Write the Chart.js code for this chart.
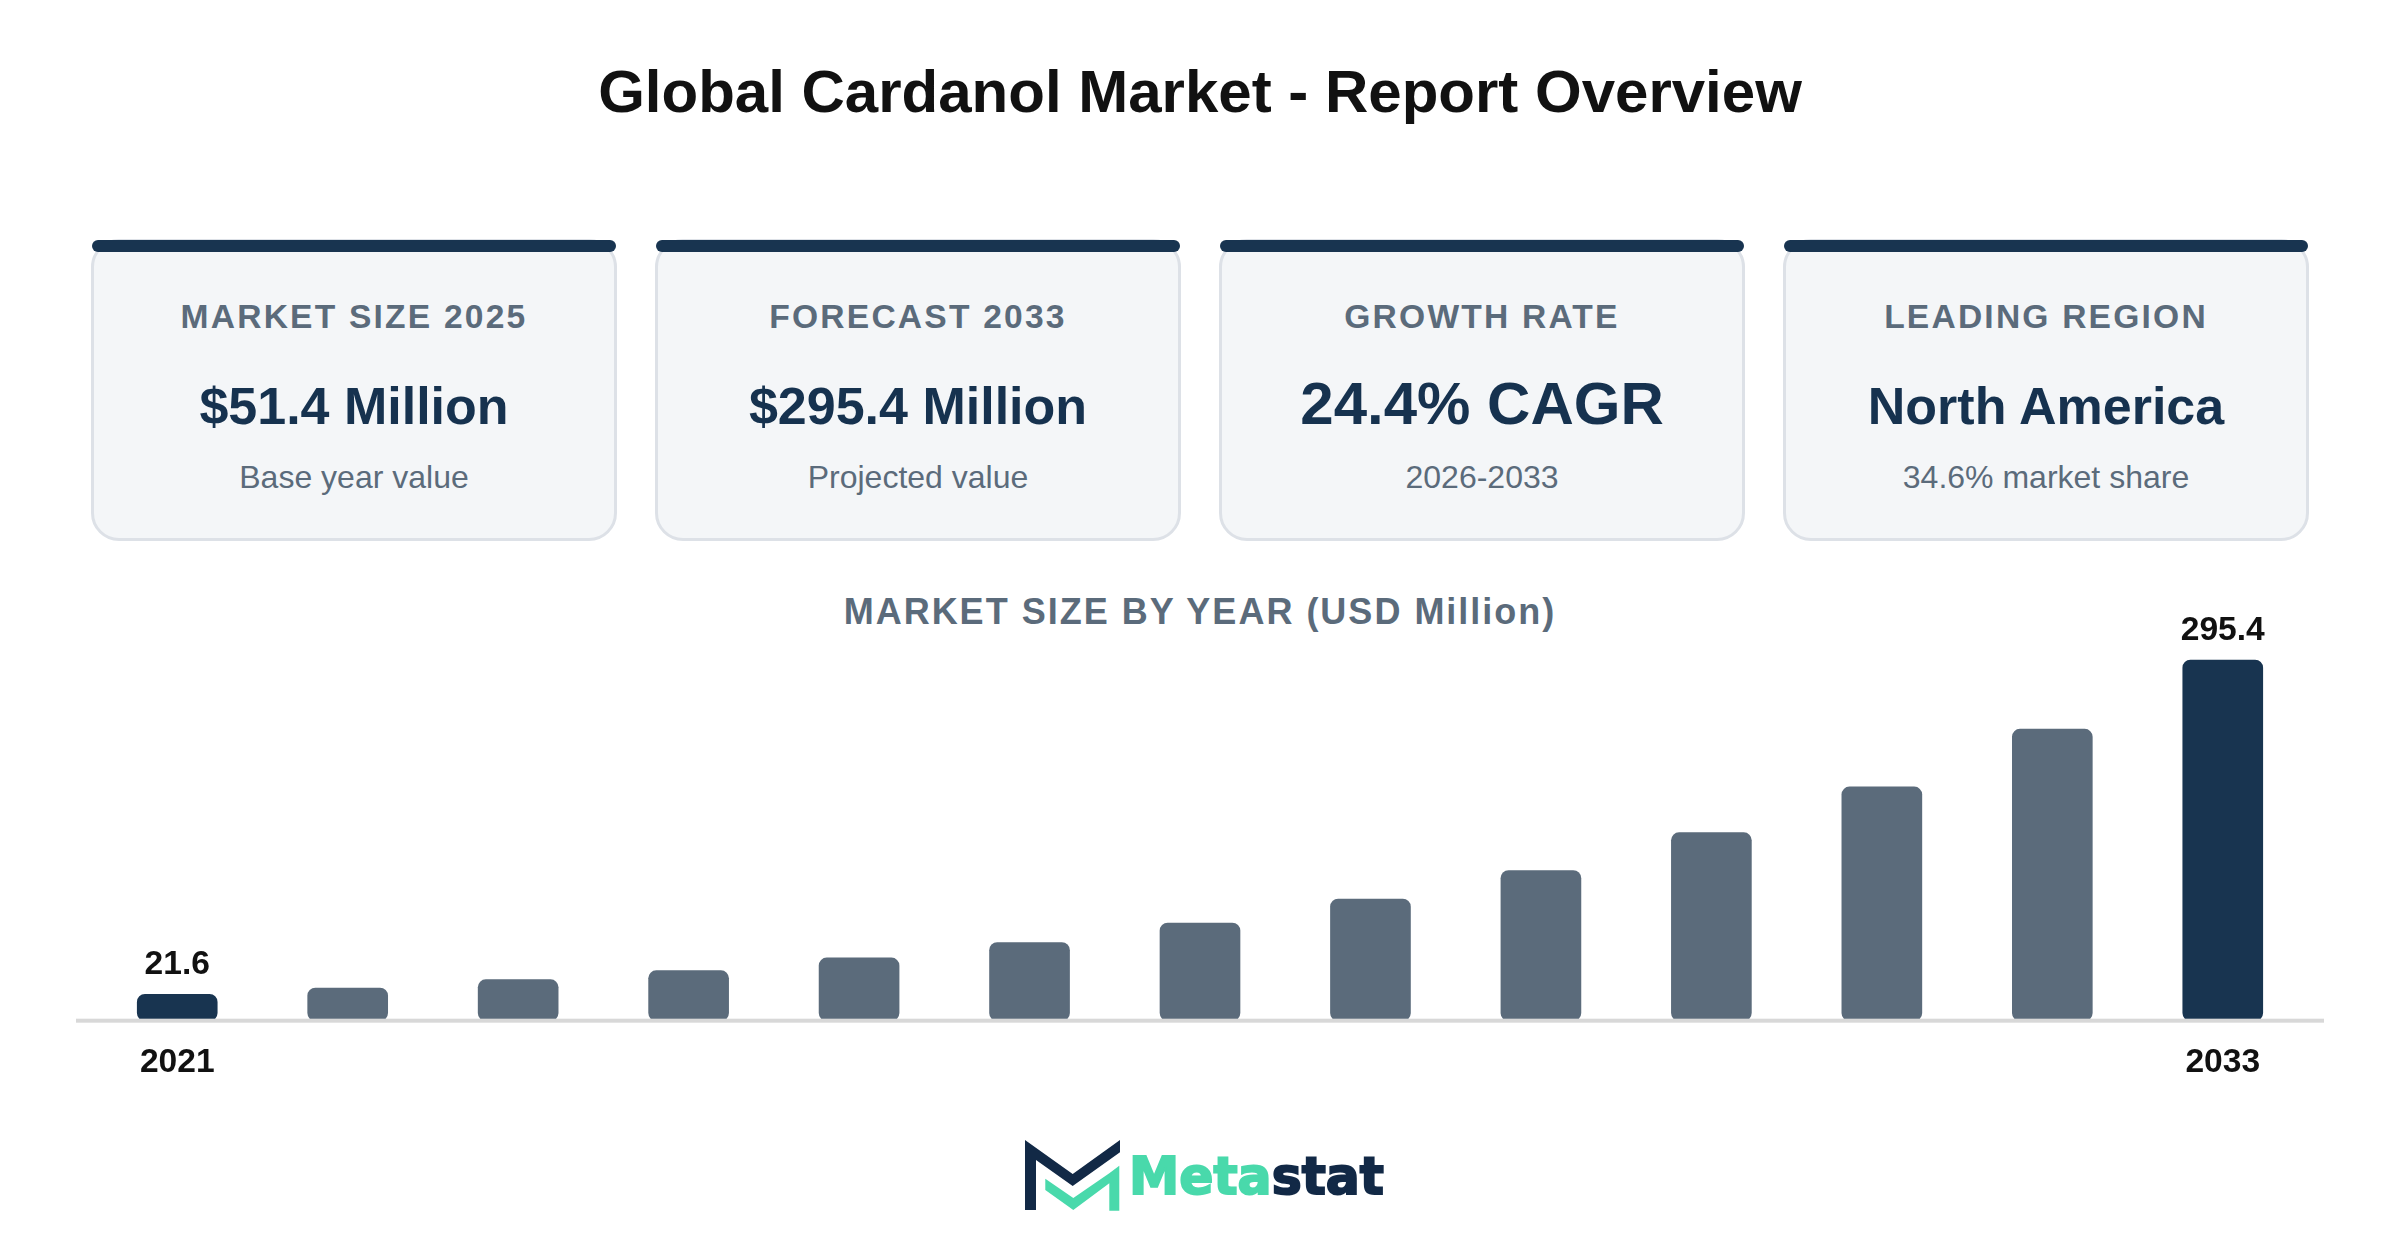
<!DOCTYPE html>
<html><head><meta charset="utf-8">
<script src="https://cdn.jsdelivr.net/npm/chart.js@4"></script>
<style>
html,body{margin:0;padding:0;background:#fff;width:2400px;height:1260px;overflow:hidden;font-family:"Liberation Sans",Arial,sans-serif}
.abs{position:absolute}
#title{left:0;width:2400px;top:51px;line-height:82px;text-align:center;font-size:60px;font-weight:700;color:#111}
.card{position:absolute;top:239px;width:520px;height:296px;background:#f4f6f8;border:3px solid #dde1e7;border-radius:28px}
.bar{position:absolute;top:240px;height:12px;width:524px;background:#183450;border-radius:6px}
.t{position:absolute;text-align:center;width:524px;white-space:nowrap}
.lab{top:296px;line-height:42px;font-size:33.6px;font-weight:700;letter-spacing:2.2px;color:#5b6b7b}
.val{top:373px;line-height:66px;font-size:52px;font-weight:700;color:#16324f}
.val.big{font-size:60px;top:371px}
.sub{top:456px;line-height:42px;font-size:32px;color:#5b6b7b}
#ctitle{left:0;width:2400px;top:589px;line-height:46px;text-align:center;font-size:36px;font-weight:700;letter-spacing:2px;color:#5b6b7b}
#wrap{position:absolute;left:76px;top:606px;width:2248px;height:491px}
</style></head><body>
<div id="title" class="abs">Global Cardanol Market - Report Overview</div>
<div id="cards"></div>
<div id="ctitle" class="abs">MARKET SIZE BY YEAR (USD Million)</div>
<div id="wrap"><canvas id="c" width="2248" height="491"></canvas></div>
<svg class="abs" style="left:950px;top:1100px" width="500" height="150" viewBox="0 0 500 150">
<polygon fill="#122946" points="75,40 122.7,74 170,40 170,52.3 122.7,86 86,60 86,110 75,110"/>
<polygon fill="#49d9ab" points="95.3,78.7 123.3,98 159.3,73.3 169.3,65.7 169.3,110.7 159.3,110.7 159.3,83.3 123.3,110 95.3,90"/>
<text x="179" y="94" font-family="DejaVu Sans" font-weight="700" font-size="52" textLength="255" lengthAdjust="spacingAndGlyphs" stroke-width="2"><tspan fill="#49d9ab" stroke="#49d9ab">Meta</tspan><tspan fill="#122946" stroke="#122946">stat</tspan></text>
</svg>
<script>
const cardLabels=["MARKET SIZE 2025","FORECAST 2033","GROWTH RATE","LEADING REGION"];
const cardValues=["$51.4 Million","$295.4 Million","24.4% CAGR","North America"];
const cardNotes=["Base year value","Projected value","2026-2033","34.6% market share"];
const years=["2021","2022","2023","2024","2025","2026","2027","2028","2029","2030","2031","2032","2033"];
const marketSize=[21.6,26.8,33.6,41.0,51.4,64.0,80.0,99.6,123.0,154.0,191.5,238.8,295.4];
const highlighted=["2021","2033"];
const DARK="#183450",GREY="#5b6b7b";

const host=document.getElementById('cards');
cardLabels.forEach((l,i)=>{
  const x=92+564*i;
  host.insertAdjacentHTML('beforeend',
   `<div class="card" style="left:${x-1}px"></div><div class="bar" style="left:${x}px"></div>
    <div class="t lab" style="left:${x}px">${l}</div>
    <div class="t val${i===2?' big':''}" style="left:${x}px">${cardValues[i]}</div>
    <div class="t sub" style="left:${x}px">${cardNotes[i]}</div>`);
});

const endLabels={id:'endLabels',
 afterDatasetsDraw(chart){
  const {ctx,chartArea:a,scales:{y}}=chart;
  const y0=y.getPixelForValue(0);
  ctx.save();
  ctx.fillStyle='#d8d8d8';
  ctx.fillRect(a.left-16,y0-2,a.right-a.left+32,4);
  ctx.fillStyle='#111';
  ctx.font='700 33.6px "Liberation Sans"';
  ctx.textAlign='center';ctx.textBaseline='alphabetic';
  const meta=chart.getDatasetMeta(0);
  years.forEach((yr,i)=>{
    if(highlighted.includes(yr)){
      const el=meta.data[i];
      ctx.fillText(String(marketSize[i]),el.x,el.y-20);
    }
  });
  ctx.restore();
 }};

window.chart=new Chart(document.getElementById('c'),{
 type:'bar',
 plugins:[endLabels],
 data:{labels:years,datasets:[{data:marketSize,
   backgroundColor:years.map(y=>highlighted.includes(y)?DARK:GREY),
   barThickness:80,borderRadius:8,borderSkipped:false}]},
 options:{responsive:false,animation:false,devicePixelRatio:1,
  layout:{padding:{left:16,right:16,top:0,bottom:0}},
  plugins:{legend:{display:false},tooltip:{enabled:false},title:{display:false}},
  scales:{
   x:{grid:{display:false},border:{display:false},
      ticks:{autoSkip:false,maxRotation:0,padding:14,color:'#111',font:{family:'"Liberation Sans"',size:33.6,weight:'700'},
        callback(v,i){const s=years[i];return highlighted.includes(s)?s:'';}}},
   y:{display:false,min:0,max:339.7}
  }}
});
</script>
</body></html>
